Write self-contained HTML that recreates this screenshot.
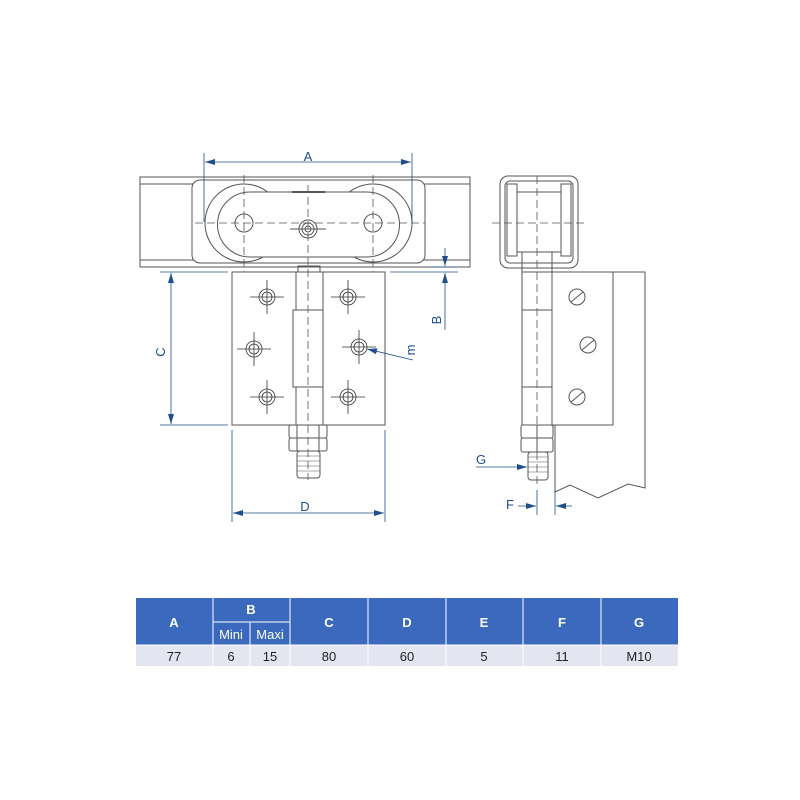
<!DOCTYPE html>
<html><head><style>
body{margin:0;background:#fff;}
svg{display:block}
</style></head><body>
<svg width="800" height="800" viewBox="0 0 800 800" xmlns="http://www.w3.org/2000/svg" font-family="Liberation Sans, sans-serif">
<defs>
<marker id="ar" markerWidth="10" markerHeight="6" refX="10" refY="3" orient="auto-start-reverse" markerUnits="userSpaceOnUse"><path d="M0,0 L10,3 L0,6z" fill="#1f4e8c"/></marker>
<g id="hole"><circle r="8"/><circle r="5"/><line x1="-17" x2="17"/><line y1="-17" y2="17"/></g>
</defs>
<g fill="none" stroke="#555" stroke-width="1">
<!-- front rail -->
<rect x="140" y="177" width="330" height="90"/>
<line x1="140" y1="184" x2="470" y2="184"/>
<line x1="140" y1="260" x2="470" y2="260"/>
<rect x="192" y="180" width="233" height="83" rx="8" fill="#fff"/>
<circle cx="244" cy="223" r="39"/>
<circle cx="373" cy="223" r="39"/>
<path d="M250,192 H367 A32.5,32.5 0 0 1 367,257 H250 A32.5,32.5 0 0 1 250,192Z" fill="#fff"/>
<circle cx="244" cy="223" r="9"/><circle cx="373" cy="223" r="9"/>
<circle cx="308" cy="229" r="9"/><circle cx="308" cy="229" r="6"/><circle cx="308" cy="229" r="3"/>
<line x1="292" y1="192" x2="325" y2="192" stroke-width="2"/>
<g stroke-dasharray="8,4" stroke-width="0.8">
<line x1="195" y1="223" x2="425" y2="223"/>
<line x1="244" y1="175" x2="244" y2="272"/>
<line x1="373" y1="175" x2="373" y2="272"/>
<line x1="308" y1="185" x2="308" y2="480"/>
</g>
<line x1="290" y1="229" x2="326" y2="229"/>
<!-- hinge -->
<rect x="232" y="272" width="153" height="153"/>
<rect x="298" y="266" width="22" height="6"/>
<rect x="296" y="272" width="27" height="38"/>
<rect x="293" y="310" width="30" height="77"/>
<rect x="296" y="387" width="27" height="38"/>
<rect x="289" y="425" width="38" height="13" rx="2"/>
<rect x="289" y="438" width="38" height="13" rx="2"/>
<line x1="297" y1="425" x2="297" y2="451"/><line x1="319" y1="425" x2="319" y2="451"/>
<rect x="297" y="451" width="23" height="27" rx="3"/>
<path d="M297,456h23M297,461h23M297,466h23M297,471h23" stroke-width="0.6"/>
<!-- side view -->
<rect x="500" y="176" width="78" height="92" rx="8"/>
<rect x="505" y="181" width="68" height="82" rx="5"/>
<rect x="507" y="184" width="10" height="72"/><rect x="561" y="184" width="10" height="72"/>
<rect x="517" y="192" width="44" height="60"/>
<rect x="522" y="252" width="30" height="20"/>
<line x1="492" y1="223" x2="585" y2="223" stroke-dasharray="8,4" stroke-width="0.8"/>
<line x1="537" y1="176" x2="537" y2="485" stroke-dasharray="8,4" stroke-width="0.8"/>
<path d="M555,272 H645 V488 L628,484 L598,498 L570,485 L555,492 V425"/>
<rect x="552" y="272" width="61" height="153" fill="#fff"/>
<rect x="522" y="272" width="30" height="153"/>
<line x1="522" y1="310" x2="552" y2="310"/><line x1="522" y1="387" x2="552" y2="387"/>
<circle cx="577" cy="297" r="8"/><circle cx="588" cy="345" r="8"/><circle cx="577" cy="397" r="8"/>
<path d="M571,302l12,-10M582,350l12,-10M571,402l12,-10"/>
<rect x="521" y="425" width="32" height="13" rx="2"/><rect x="521" y="438" width="32" height="14" rx="2"/>
<line x1="537" y1="425" x2="537" y2="452"/>
<rect x="528" y="452" width="20" height="28" rx="3"/>
<path d="M528,457h20M528,462h20M528,467h20M528,472h20" stroke-width="0.6"/>
</g>
<g fill="none" stroke="#333" stroke-width="0.8">
<use href="#hole" x="267" y="297"/><use href="#hole" x="348" y="297"/>
<use href="#hole" x="254" y="349"/><use href="#hole" x="359" y="347"/>
<use href="#hole" x="267" y="397"/><use href="#hole" x="348" y="397"/>
</g>
<!-- dimensions -->
<g stroke="#1f4e8c" stroke-width="0.8" fill="none">
<line x1="204" y1="153" x2="204" y2="222"/><line x1="412" y1="153" x2="412" y2="222"/>
<line x1="205" y1="162" x2="411" y2="162" marker-start="url(#ar)" marker-end="url(#ar)"/>
<line x1="160" y1="272" x2="228" y2="272"/><line x1="160" y1="425" x2="228" y2="425"/>
<line x1="171" y1="273" x2="171" y2="424" marker-start="url(#ar)" marker-end="url(#ar)"/>
<line x1="390" y1="272" x2="458" y2="272"/><line x1="430" y1="267" x2="458" y2="267"/>
<line x1="445" y1="248" x2="445" y2="266" marker-end="url(#ar)"/>
<line x1="445" y1="330" x2="445" y2="273" marker-end="url(#ar)"/>
<line x1="413" y1="360" x2="367" y2="349" marker-end="url(#ar)"/>
<line x1="232" y1="430" x2="232" y2="522"/><line x1="385" y1="430" x2="385" y2="522"/>
<line x1="233" y1="513" x2="384" y2="513" marker-start="url(#ar)" marker-end="url(#ar)"/>
<line x1="476" y1="467" x2="527" y2="467" marker-end="url(#ar)"/>
<line x1="537" y1="490" x2="537" y2="515"/><line x1="555" y1="490" x2="555" y2="515"/>
<line x1="518" y1="506" x2="536" y2="506" marker-end="url(#ar)"/>
<line x1="572" y1="506" x2="556" y2="506" marker-end="url(#ar)"/>
</g>
<g fill="#1f4e8c" font-size="13">
<text x="308" y="161" text-anchor="middle">A</text>
<text x="305" y="511" text-anchor="middle">D</text>
<text x="481" y="464" text-anchor="middle">G</text>
<text x="510" y="509" text-anchor="middle">F</text>
<text transform="translate(165,352) rotate(-90)" text-anchor="middle">C</text>
<text transform="translate(441,320) rotate(-90)" text-anchor="middle">B</text>
<text transform="translate(415,350) rotate(-90)" text-anchor="middle">m</text>
</g>
<!-- table -->
<g font-family="Liberation Sans, sans-serif" font-size="13" text-anchor="middle">
<rect x="136" y="598" width="542" height="47" fill="#3b69bd"/>
<rect x="136" y="645" width="542" height="21" fill="#e3e5f1"/>
<g stroke="#fff" stroke-width="1">
<line x1="213" y1="598" x2="213" y2="666"/><line x1="290" y1="598" x2="290" y2="666"/>
<line x1="368" y1="598" x2="368" y2="666"/><line x1="446" y1="598" x2="446" y2="666"/>
<line x1="523" y1="598" x2="523" y2="666"/><line x1="601" y1="598" x2="601" y2="666"/>
<line x1="250" y1="622" x2="250" y2="666"/><line x1="213" y1="622" x2="290" y2="622"/>
<line x1="136" y1="645" x2="678" y2="645"/>
</g>
<g fill="#fff" font-weight="bold">
<text x="174" y="627">A</text><text x="251" y="614">B</text><text x="329" y="627">C</text>
<text x="407" y="627">D</text><text x="484" y="627">E</text><text x="562" y="627">F</text><text x="639" y="627">G</text>
</g>
<g fill="#fff"><text x="231" y="639">Mini</text><text x="270" y="639">Maxi</text></g>
<g fill="#222">
<text x="174" y="661">77</text><text x="231" y="661">6</text><text x="270" y="661">15</text>
<text x="329" y="661">80</text><text x="407" y="661">60</text><text x="484" y="661">5</text>
<text x="562" y="661">11</text><text x="639" y="661">M10</text>
</g>
</g>
</svg>
</body></html>
